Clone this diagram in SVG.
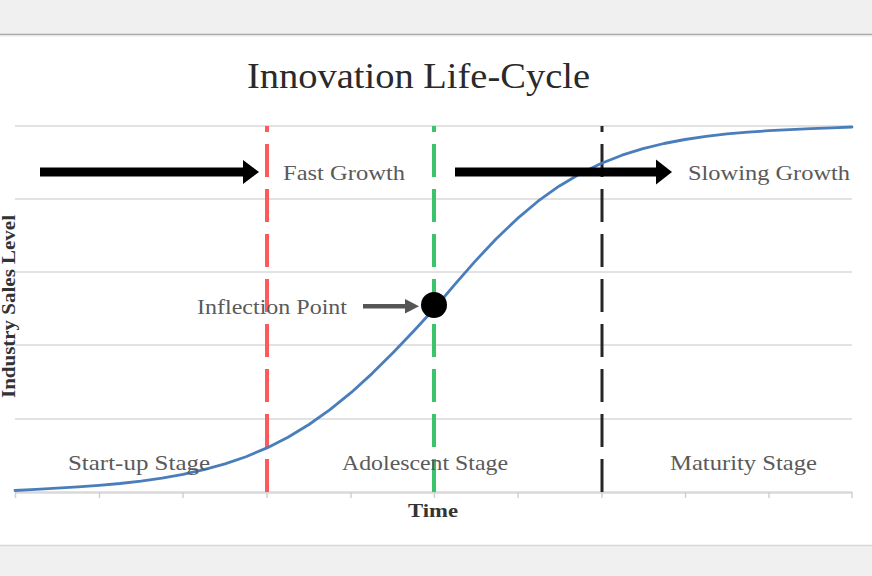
<svg xmlns="http://www.w3.org/2000/svg" width="872" height="576" viewBox="0 0 872 576">
  <style>
    .grid { stroke: #d9d9d9; stroke-width: 1.5; fill: none; }
    .tick { stroke: #d0d0d0; stroke-width: 1.5; }
    .stage { fill: none; stroke-dasharray: 33 12; }
    .lbl { font-family: "Liberation Serif", "DejaVu Serif", serif; font-size: 21px; fill: #5a5a5a; }
    .title { font-family: "Liberation Serif", "DejaVu Serif", serif; font-size: 36px; fill: #2a2a2a; }
    .axis { font-family: "Liberation Serif", "DejaVu Serif", serif; font-size: 18px; font-weight: bold; fill: #333333; }
    .bigarrow { fill: #000000; }
  </style>

  <g id="background">
    <rect x="0" y="0" width="872" height="576" fill="#f0f0f0"/>
    <rect x="0" y="35" width="872" height="510" fill="#ffffff"/>
    <line x1="0" y1="34.5" x2="872" y2="34.5" stroke="#a8a8a8" stroke-width="1.5"/>
    <line x1="0" y1="36" x2="872" y2="36" stroke="#e6e6e6" stroke-width="1"/>
    <line x1="0" y1="545.5" x2="872" y2="545.5" stroke="#d8d8d8" stroke-width="1.5"/>
  </g>

  <g id="title">
    <text class="title" x="247" y="88" textLength="343" lengthAdjust="spacingAndGlyphs">Innovation Life-Cycle</text>
  </g>

  <g id="plot-grid">
    <line class="grid" x1="15" y1="126" x2="852" y2="126"/>
    <line class="grid" x1="15" y1="199" x2="852" y2="199"/>
    <line class="grid" x1="15" y1="272" x2="852" y2="272"/>
    <line class="grid" x1="15" y1="345" x2="852" y2="345"/>
    <line class="grid" x1="15" y1="419" x2="852" y2="419"/>
    <line x1="15" y1="492.5" x2="852" y2="492.5" stroke="#d9d9d9" stroke-width="2.5"/>
    <g id="ticks">
      <line class="tick" x1="15.5" y1="492" x2="15.5" y2="498"/>
      <line class="tick" x1="99.5" y1="492" x2="99.5" y2="498"/>
      <line class="tick" x1="183" y1="492" x2="183" y2="498"/>
      <line class="tick" x1="267" y1="492" x2="267" y2="498"/>
      <line class="tick" x1="351" y1="492" x2="351" y2="498"/>
      <line class="tick" x1="434.5" y1="492" x2="434.5" y2="498"/>
      <line class="tick" x1="518" y1="492" x2="518" y2="498"/>
      <line class="tick" x1="602" y1="492" x2="602" y2="498"/>
      <line class="tick" x1="685.5" y1="492" x2="685.5" y2="498"/>
      <line class="tick" x1="769" y1="492" x2="769" y2="498"/>
      <line class="tick" x1="852" y1="492" x2="852" y2="498"/>
    </g>
  </g>

  <g id="stage-dividers">
    <line id="divider-red" class="stage" x1="267" y1="492" x2="267" y2="126" stroke="#ff5a5a" stroke-width="4"/>
    <line id="divider-green" class="stage" x1="434" y1="492" x2="434" y2="126" stroke="#3cc46c" stroke-width="4"/>
    <line id="divider-black" class="stage" x1="602" y1="492" x2="602" y2="126" stroke="#262626" stroke-width="3"/>
  </g>

  <g id="s-curve">
    <polyline fill="none" stroke="#4a7ebb" stroke-width="2.8" stroke-linejoin="round" stroke-linecap="round"
      points="15,490.5 36,489.3 57,488.2 78,486.9 99,485.3 120,483.5 141,481.1 162,478.2 183,474.4 204,469.7 225,463.9 246,456.7 267,447.9 288,437.2 309,424.5 330,409.7 351,392.7 372,373.6 393,352.8 414,330.7 434,309 454,285.3 475,261.4 496,239 517,218.9 538,201.2 559,186.2 580,173.7 601,163.5 622,155.2 643,148.7 664,143.5 685,139.5 706,136.4 727,133.9 748,132.1 769,130.7 790,129.6 811,128.7 832,127.9 852,127"/>
  </g>

  <g id="connectors">
    <g id="arrow-fast-growth">
      <rect class="bigarrow" x="40" y="167.5" width="205" height="9"/>
      <polygon class="bigarrow" points="243,160 259,172 243,184"/>
    </g>
    <g id="arrow-slowing-growth">
      <rect class="bigarrow" x="455" y="167.5" width="203" height="9"/>
      <polygon class="bigarrow" points="656,159.5 672,172 656,184.5"/>
    </g>
    <g id="arrow-inflection">
      <rect x="363" y="304" width="44" height="4.5" fill="#555555"/>
      <polygon points="405,299 419,306.2 405,313.5" fill="#555555"/>
    </g>
  </g>

  <g id="inflection-point">
    <circle cx="434" cy="305" r="13" fill="#000000"/>
  </g>

  <g id="labels">
    <text id="lbl-fast" class="lbl" x="283" y="180" textLength="122" lengthAdjust="spacingAndGlyphs">Fast Growth</text>
    <text id="lbl-slow" class="lbl" x="688" y="180" textLength="162" lengthAdjust="spacingAndGlyphs">Slowing Growth</text>
    <text id="lbl-inflection" class="lbl" x="197" y="314" textLength="150" lengthAdjust="spacingAndGlyphs">Inflection Point</text>
    <text id="lbl-startup" class="lbl" x="68" y="470" textLength="142" lengthAdjust="spacingAndGlyphs">Start-up Stage</text>
    <text id="lbl-adolescent" class="lbl" x="342" y="470" textLength="166" lengthAdjust="spacingAndGlyphs">Adolescent Stage</text>
    <text id="lbl-maturity" class="lbl" x="670" y="470" textLength="147" lengthAdjust="spacingAndGlyphs">Maturity Stage</text>
    <text id="lbl-time" class="axis" x="408" y="517" textLength="50" lengthAdjust="spacingAndGlyphs">Time</text>
    <text id="lbl-yaxis" class="axis" transform="translate(15,398) rotate(-90)" x="0" y="0" font-size="14" textLength="183" lengthAdjust="spacingAndGlyphs">Industry Sales Level</text>
  </g>
</svg>
